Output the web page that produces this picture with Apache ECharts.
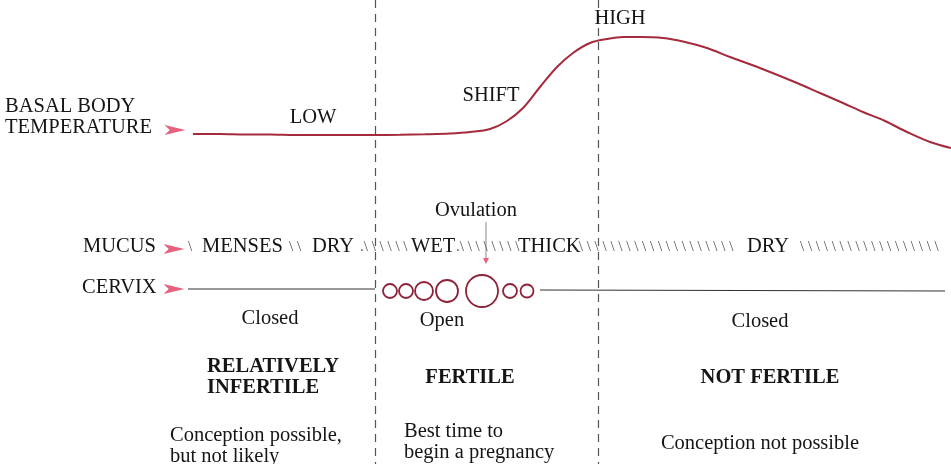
<!DOCTYPE html>
<html><head><meta charset="utf-8">
<script src="https://cdn.jsdelivr.net/npm/echarts@6/dist/echarts.min.js"></script>
<style>html,body{margin:0;padding:0;background:#fff}#c{width:951px;height:464px}</style>
</head><body><div id="c"></div>
<script>
// Basal body temperature curve across the cycle (diagram units; y grows downward)
const tempX = [193, 220, 245, 270, 295, 320, 345, 375, 400, 425, 450, 470, 490, 507, 523, 540, 557, 573, 590, 607, 623, 640, 663, 685, 707, 730, 752, 775, 797, 820, 843, 863, 885, 907, 930, 951];
const tempY = [134, 134, 134.5, 134.5, 135, 135, 135, 135, 134.8, 134.3, 133.5, 132, 129, 121, 108, 87, 67, 53, 43, 39, 37, 37, 38, 42, 48, 57, 65, 74, 83, 93, 103, 112, 121, 132, 142, 148];
// phase boundaries (dashed verticals)
const phaseBoundaries = [375, 598];
// cervix: closed segments and open-cervix circles (relative opening)
const cervixClosedA = [[188, 289], [375, 289]];
const cervixClosedB = [[540, 290], [945, 291]];
const cervixX = [390, 406, 424, 447, 482, 510, 527];
const cervixOpening = [7, 7, 9, 11, 16, 7, 6.5];
const cervixRowY = 291;
// ovulation marker
const ovulationX = 486;

const INK = '#151515', RED = '#a52a3c', PINK = '#e8607c', HATCH = '#555';
const SERIF = '"Liberation Serif", "Times New Roman", serif';
const hatch = n => '\\ '.repeat(n);

// text annotations [x, y, text, kind, align]
const labels = [
  [5, 117, 'BASAL BODY\nTEMPERATURE', 'n', 'left'],
  [313, 118, 'LOW', 'n', 'center'],
  [491, 96, 'SHIFT', 'n', 'center'],
  [620, 19, 'HIGH', 'n', 'center'],
  [476, 211, 'Ovulation', 'n', 'center'],
  [83, 247, 'MUCUS', 'n', 'left'],
  [82, 288, 'CERVIX', 'n', 'left'],
  [202, 247, 'MENSES', 'n', 'left'],
  [312, 247, 'DRY', 'n', 'left'],
  [411, 247, 'WET', 'n', 'left'],
  [518, 247, 'THICK', 'n', 'left'],
  [747, 247, 'DRY', 'n', 'left'],
  [270, 319, 'Closed', 'n', 'center'],
  [442, 321, 'Open', 'n', 'center'],
  [760, 322, 'Closed', 'n', 'center'],
  [207, 377, 'RELATIVELY\nINFERTILE', 'b', 'left'],
  [470, 378, 'FERTILE', 'b', 'center'],
  [770, 378, 'NOT FERTILE', 'b', 'center'],
  [170, 446, 'Conception possible,\nbut not likely', 'n', 'left'],
  [404, 442, 'Best time to\nbegin a pregnancy', 'n', 'left'],
  [760, 444, 'Conception not possible', 'n', 'center']
];
const hatches = [
  [188, 247, hatch(1)],
  [289, 247, hatch(2)],
  [360, 247, '.' + hatch(6)],
  [456, 247, '.' + hatch(8)],
  [575, 247, '.' + hatch(20)],
  [800, 247, hatch(18)]
];
const arrows = [[175, 130], [174, 249], [174, 289]];

function textSeries(items, bold, color, size) {
  return {
    type: 'scatter', symbolSize: 0, silent: true, z: 5,
    itemStyle: { opacity: 1 },
    data: items.map(d => ({ value: [d[0], d[1]], name: d[2], label: { align: d[4] || 'left' } })),
    label: {
      show: true, position: 'inside', formatter: '{b}', color: color, opacity: 1,
      fontFamily: SERIF, fontSize: size, fontWeight: bold ? 'bold' : 'normal',
      verticalAlign: 'middle', lineHeight: 21, textBorderWidth: 0
    }
  };
}

const chart = echarts.init(document.getElementById('c'), null, { renderer: 'canvas' });
chart.setOption({
  animation: false,
  backgroundColor: '#fff',
  grid: { left: 0, right: 0, top: 0, bottom: 0 },
  xAxis: { type: 'value', min: 0, max: 951, show: false },
  yAxis: { type: 'value', min: 0, max: 464, inverse: true, show: false },
  series: [
    {
      type: 'line', data: tempX.map((x, i) => [x, tempY[i]]), smooth: 0.35,
      symbol: 'none', lineStyle: { color: RED, width: 2 }, z: 3,
      markLine: {
        silent: true, symbol: 'none', label: { show: false },
        lineStyle: { color: '#555', width: 1.2, type: [8, 6] },
        data: phaseBoundaries.map(x => ({ xAxis: x }))
      }
    },
    { type: 'line', data: cervixClosedA, symbol: 'none', lineStyle: { color: '#333', width: 1.2 } },
    { type: 'line', data: cervixClosedB, symbol: 'none', lineStyle: { color: '#333', width: 1.2 } },
    {
      type: 'scatter', data: cervixX.map((x, i) => [x, cervixRowY, cervixOpening[i]]),
      symbol: 'circle', symbolSize: v => v[2] * 2,
      itemStyle: { color: 'rgba(0,0,0,0)', borderColor: '#8e2238', borderWidth: 1.8, opacity: 1 }, z: 4
    },
    { type: 'line', data: [[ovulationX, 222], [ovulationX, 258]], symbol: 'none', lineStyle: { color: '#888', width: 1 } },
    {
      type: 'scatter', data: [[ovulationX, 261]], symbol: 'triangle', symbolRotate: 180,
      symbolSize: [6, 6], itemStyle: { color: PINK, opacity: 1 }
    },
    {
      type: 'scatter', data: arrows, symbol: 'path://M0,0 L24,6 L0,12 L6,6 Z',
      symbolSize: [21, 10], itemStyle: { color: PINK, opacity: 1 }
    },
    textSeries(labels.filter(d => d[3] === 'n'), false, INK, 20.5),
    textSeries(labels.filter(d => d[3] === 'b'), true, INK, 20.5),
    textSeries(hatches.map(h => [h[0], h[1], h[2], '', 'left']), false, HATCH, 15)
  ]
});
</script></body></html>
